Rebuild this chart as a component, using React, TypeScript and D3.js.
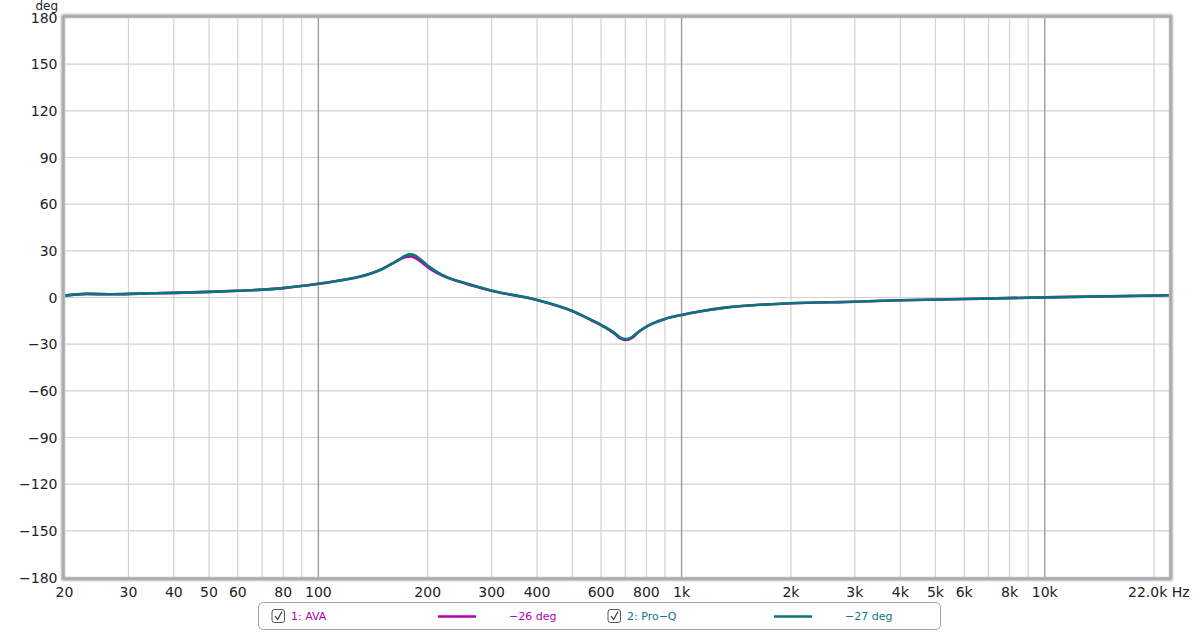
import React from 'react';
import * as d3 from 'd3';

// phase response readings (Hz, degrees)
const freqs = [20, 23, 27, 32, 40, 50, 60, 80, 100, 120, 135, 150, 160, 168, 174, 179, 185, 192, 200, 219, 255, 300, 400, 500, 550, 600, 650, 675, 702, 730, 760, 800, 900, 1000, 1120, 1320, 2000, 3000, 4000, 6000, 10000, 22050];
const avaDeg = [1.2, 2.3, 2.1, 2.5, 3.0, 3.6, 4.3, 6.0, 8.8, 11.7, 14.3, 18.4, 21.9, 24.6, 26.1, 26.4, 25.4, 22.8, 19.5, 14.2, 8.9, 4.4, -1.6, -8.7, -13.3, -17.8, -22.8, -26.0, -27.3, -26.0, -22.4, -18.8, -13.8, -11.2, -9.0, -6.5, -3.7, -2.7, -1.8, -1.0, 0.1, 1.4];
const proqDeg = [1.2, 2.3, 2.1, 2.5, 3.0, 3.6, 4.3, 6.0, 8.8, 11.7, 14.4, 18.3, 21.9, 24.9, 27.0, 27.7, 26.9, 24.1, 20.6, 14.6, 9.1, 4.4, -1.6, -8.7, -13.2, -17.6, -22.4, -25.4, -26.7, -25.4, -22.1, -18.7, -13.8, -11.2, -9.0, -6.5, -3.7, -2.7, -1.8, -1.0, 0.1, 1.4];

const yTicks = [180, 150, 120, 90, 60, 30, 0, -30, -60, -90, -120, -150, -180];
const gridFreqs = [20, 30, 40, 50, 60, 70, 80, 90, 100, 200, 300, 400, 500, 600, 700, 800, 900, 1000, 2000, 3000, 4000, 5000, 6000, 7000, 8000, 9000, 10000, 20000];
const majorFreqs = [100, 1000, 10000];
const xLabels = [20, 30, 40, 50, 60, 80, 100, 200, 300, 400, 600, 800, 1000, 2000, 3000, 4000, 5000, 6000, 8000, 10000];

const AVA = '#b000b4';
const PROQ = '#0a767c';
const FONT = '"DejaVu Sans", Verdana, sans-serif';

const fmtHz = (f: number) => (f >= 1000 ? `${f / 1000}k` : `${f}`);

export default function App() {
  const left = 64.5, right = 1169.5, top = 17.5, bottom = 577.5;
  const x = d3.scaleLog().domain([20, 22050]).range([left, right]);
  const y = d3.scaleLinear().domain([-180, 180]).range([bottom, top]);

  const line = d3
    .line<[number, number]>()
    .x((d) => x(d[0]))
    .y((d) => y(d[1]))
    .curve(d3.curveMonotoneX);

  const avaPath = line(freqs.map((f, i) => [f, avaDeg[i]]) as [number, number][]) as string;
  const proqPath = line(freqs.map((f, i) => [f, proqDeg[i]]) as [number, number][]) as string;

  return (
    <svg
      width={1200}
      height={632}
      style={{ position: 'absolute', left: 0, top: 0, background: '#fff' }}
      fontFamily={FONT}
    >
      <defs>
        <filter id="blur" x="-5%" y="-5%" width="110%" height="110%">
          <feGaussianBlur stdDeviation="1.2" />
        </filter>
        <clipPath id="plot">
          <rect x={left} y={top} width={right - left} height={bottom - top} />
        </clipPath>
      </defs>

      {/* frame shadow */}
      <rect
        x={left - 1}
        y={top - 1}
        width={right - left + 2}
        height={bottom - top + 2}
        fill="none"
        stroke="#9a9a9a"
        strokeWidth={4}
        filter="url(#blur)"
      />
      <rect x={left} y={top} width={right - left} height={bottom - top} fill="#fff" />

      {/* grid */}
      {yTicks.map((t) => (
        <line key={`h${t}`} x1={left} x2={right} y1={y(t)} y2={y(t)} stroke="#d2d2d2" strokeWidth={1.2} />
      ))}
      {gridFreqs.map((f) => (
        <line
          key={`v${f}`}
          x1={x(f)}
          x2={x(f)}
          y1={top}
          y2={bottom}
          stroke={majorFreqs.includes(f) ? '#9c9c9c' : '#d2d2d2'}
          strokeWidth={majorFreqs.includes(f) ? 1.4 : 1.2}
        />
      ))}

      {/* curves */}
      <g clipPath="url(#plot)" fill="none" strokeWidth={2.6} strokeLinejoin="round">
        <path d={avaPath} stroke={AVA} />
        <path d={proqPath} stroke={PROQ} />
      </g>

      <rect x={left} y={top} width={right - left} height={bottom - top} fill="none" stroke="#b8b8b8" strokeWidth={1.5} />

      {/* y axis */}
      <text x={58} y={9.6} fontSize={12} textAnchor="end" fill="#222">deg</text>
      {yTicks.map((t) => (
        <text key={`yl${t}`} x={57.5} y={y(t)} dy="0.38em" fontSize={14} textAnchor="end" fill="#222">
          {t < 0 ? `\u2212${-t}` : t}
        </text>
      ))}

      {/* x axis */}
      {xLabels.map((f) => (
        <text key={`xl${f}`} x={x(f)} y={597} fontSize={14} textAnchor="middle" fill="#222">
          {fmtHz(f)}
        </text>
      ))}
      <text x={1128} y={597} fontSize={14} fill="#222">22.0k Hz</text>

      {/* legend */}
      <g fontSize={11}>
        <rect x={258.5} y={602.5} width={682} height={27} rx={5} fill="#fff" stroke="#a0a0a0" />
        <rect x={272} y={609.5} width={12.5} height={13} rx={2.5} fill="#fff" stroke="#555" />
        <path d="M275 616 L277.6 619.5 L282 611.5" fill="none" stroke="#333" strokeWidth={1.2} />
        <text x={291} y={620} fill={AVA}>1: AVA</text>
        <line x1={438} x2={476} y1={616.5} y2={616.5} stroke={AVA} strokeWidth={2.5} />
        <text x={509} y={620} fill={AVA}>{'\u221226 deg'}</text>

        <rect x={608} y={609.5} width={12.5} height={13} rx={2.5} fill="#fff" stroke="#555" />
        <path d="M611 616 L613.6 619.5 L618 611.5" fill="none" stroke="#333" strokeWidth={1.2} />
        <text x={627} y={620} fill={PROQ}>{'2: Pro\u2212Q'}</text>
        <line x1={774} x2={812} y1={616.5} y2={616.5} stroke={PROQ} strokeWidth={2.5} />
        <text x={845} y={620} fill={PROQ}>{'\u221227 deg'}</text>
      </g>
    </svg>
  );
}
